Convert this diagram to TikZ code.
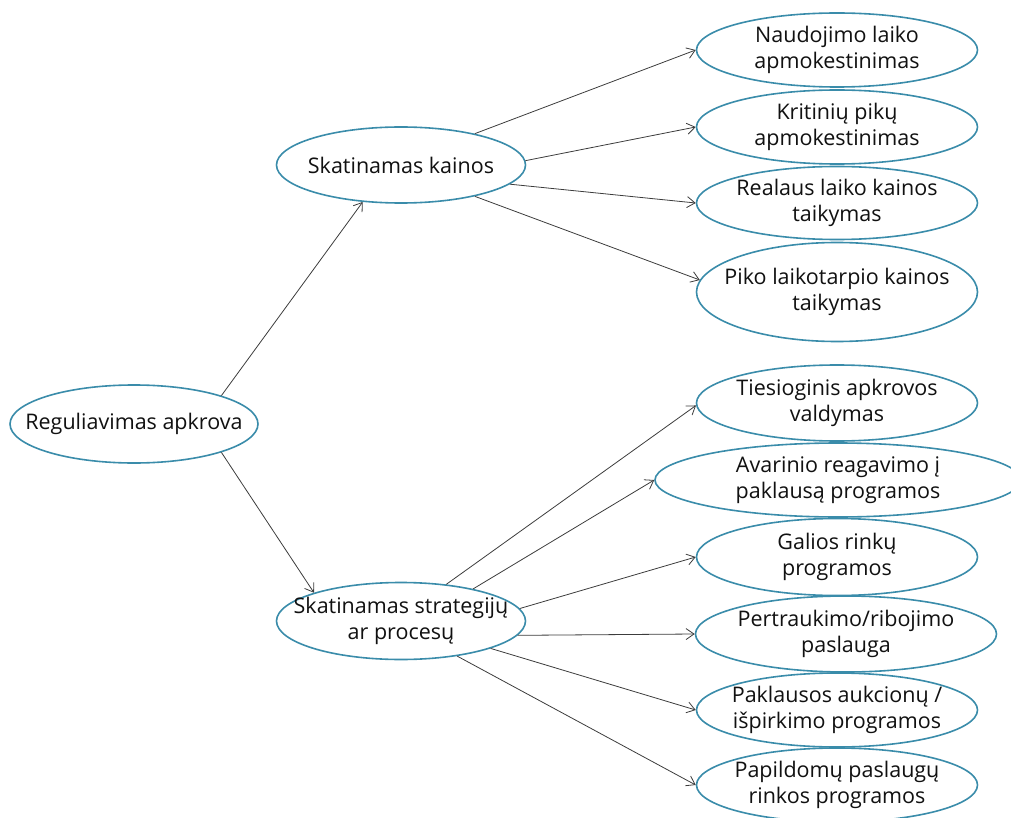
\documentclass[tikz,border=0pt]{standalone}
\usepackage{fontspec}
\setmainfont{Open Sans}
\usetikzlibrary{shapes.geometric,arrows.meta}
\definecolor{ellc}{HTML}{3A8CAA}
\definecolor{arrc}{HTML}{3C3C3C}
\definecolor{txtc}{HTML}{111111}
\newcommand{\ctext}[1]{\makebox[0pt]{\parbox{10cm}{\centering\fontsize{21.5}{25.5}\selectfont #1}}}
\tikzset{
  ell/.style={ellipse, draw=ellc, line width=1.6pt, fill=white, inner sep=0pt, text=txtc},
  conn/.style={draw=arrc, line width=0.8pt, -{Straight Barb[length=8pt,width=11pt]}}
}
\begin{document}
\begin{tikzpicture}[x=1pt,y=-1pt]
\useasboundingbox (0,0) rectangle (1011,818);
\clip (0,0) rectangle (1011,818);
\node[ell, minimum width=248pt, minimum height=78pt] (reg) at (134,424) {\ctext{Reguliavimas apkrova}};
\node[ell, minimum width=249pt, minimum height=76pt] (sk) at (401,165) {\ctext{Skatinamas kainos}};
\node[ell, minimum width=249pt, minimum height=77pt] (st) at (401,621) {\ctext{Skatinamas strategijų\\ar procesų}};
\node[ell, minimum width=281pt, minimum height=74pt] (e1) at (837,50) {\ctext{Naudojimo laiko\\apmokestinimas}};
\node[ell, minimum width=281pt, minimum height=74pt] (e2) at (837,127) {\ctext{Kritinių pikų\\apmokestinimas}};
\node[ell, minimum width=281pt, minimum height=73pt] (e3) at (837,203) {\ctext{Realaus laiko kainos\\taikymas}};
\node[ell, minimum width=281pt, minimum height=99pt] (e4) at (837,292) {\ctext{Piko laikotarpio kainos\\taikymas}};
\node[ell, minimum width=281pt, minimum height=76pt] (e5) at (837,403) {\ctext{Tiesioginis apkrovos\\valdymas}};
\node[ell, minimum width=366pt, minimum height=74pt] (e6) at (838,480) {\ctext{Avarinio reagavimo į\\paklausą programos}};
\node[ell, minimum width=281pt, minimum height=77pt] (e7) at (837,557) {\ctext{Galios rinkų\\programos}};
\node[ell, minimum width=301pt, minimum height=76pt] (e8) at (846,634) {\ctext{Pertraukimo/ribojimo\\paslauga}};
\node[ell, minimum width=281pt, minimum height=74pt] (e9) at (837,710) {\ctext{Paklausos aukcionų /\\išpirkimo programos}};
\node[ell, minimum width=281pt, minimum height=74pt] (e10) at (837,785) {\ctext{Papildomų paslaugų\\rinkos programos}};
\draw[conn] (reg.18) -- (sk.224);
\draw[conn] (reg.-18) -- (st.162);
\draw[conn] (sk.23) -- (e1.180);
\draw[conn] (sk.2) -- (e2.180);
\draw[conn] (sk.-10) -- (e3.180);
\draw[conn] (sk.-23) -- (e4.175);
\draw[conn] (st.39) -- (e5.181);
\draw[conn] (st.24) -- (e6.180);
\draw[conn] (st.6) -- (e7.180);
\draw[conn] (st.-7) -- (e8.180);
\draw[conn] (st.-17) -- (e9.180);
\draw[conn] (st.-32) -- (e10.180);
\end{tikzpicture}
\end{document}
